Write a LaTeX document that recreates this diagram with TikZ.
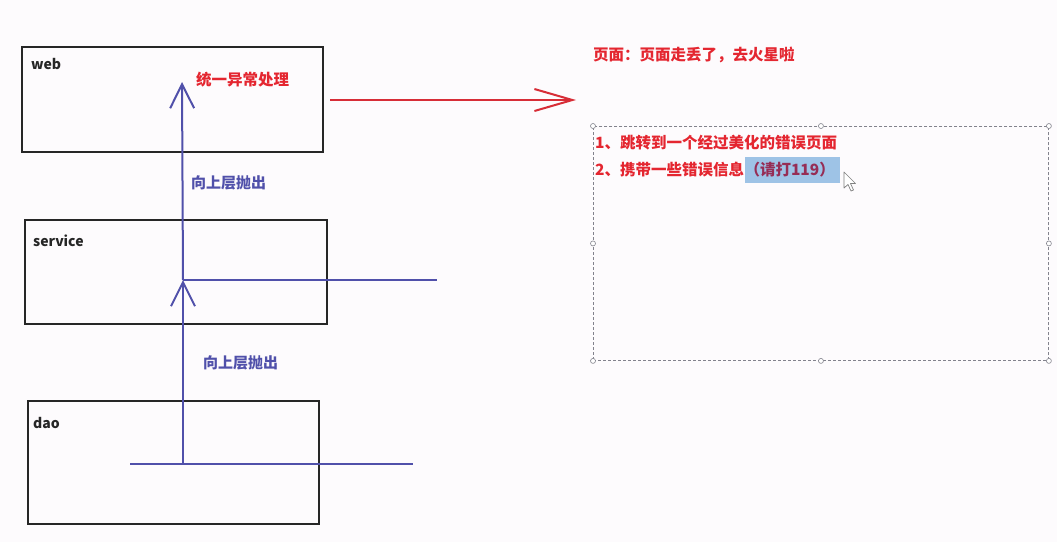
\documentclass[tikz,border=0pt]{standalone}
\usepackage{fontspec}
\newfontfamily\cjk{Noto Sans CJK SC}
\usetikzlibrary{arrows.meta}
\definecolor{bg}{RGB}{253,251,253}
\definecolor{blueline}{RGB}{80,80,170}
\definecolor{redline}{RGB}{215,45,55}
\definecolor{redtext}{RGB}{228,38,48}
\definecolor{hl}{RGB}{158,195,230}
\definecolor{hltext}{RGB}{150,45,85}
\definecolor{dashgray}{RGB}{130,130,140}
\tikzset{
  layerbox/.style={draw=black!85, line width=2pt, fill=none, anchor=north west, inner sep=0pt},
  layername/.style={anchor=west, inner sep=0pt, font=\cjk\bfseries\fontsize{14}{16}\selectfont, text=black!85},
  bluetext/.style={anchor=west, inner sep=0pt, font=\cjk\bfseries\fontsize{15}{18}\selectfont, text=blueline},
  redlabel/.style={anchor=west, inner sep=0pt, font=\cjk\bfseries\fontsize{15.5}{18}\selectfont, text=redtext},
  blueflow/.style={draw=blueline, line width=2pt},
  bluearrow/.style={blueflow, -{Straight Barb[length=24pt,width=24pt]}},
  redarrow/.style={draw=redline, line width=2pt, -{Straight Barb[length=38pt,width=22pt]}},
  handle/.style={circle, draw=dashgray, fill=white, line width=0.6pt, inner sep=0pt, minimum size=5pt},
}
\begin{document}
\begin{tikzpicture}[x=1pt,y=-1pt]
\fill[bg] (0,0) rectangle (1057,542);
\useasboundingbox (0,0) rectangle (1057,542);

% layer boxes
\node[layerbox, minimum width=301pt, minimum height=105pt] (web) at (21,46) {};
\node[layerbox, minimum width=302pt, minimum height=104pt] (service) at (24,219) {};
\node[layerbox, minimum width=291pt, minimum height=123pt] (dao) at (27,400) {};

\node[layername] (webl) at (31,64) {web};
\node[layername] (servicel) at (33,241) {service};
\node[layername] (daol) at (33,423) {dao};

% blue flows
\coordinate (d1) at (130,464);
\coordinate (d2) at (413,464);
\coordinate (dj) at (183,464);
\coordinate (sj) at (183,280);
\coordinate (s2) at (437,280);
\coordinate (wt) at (182,82);

\draw[blueflow] (d1) -- (d2);
\draw[bluearrow] (dj) -- (sj);
\draw[blueflow] (sj) -- (s2);
\draw[bluearrow] (sj) -- (wt);

\node[bluetext] (up1) at (191,183) {向上层抛出};
\node[bluetext] (up2) at (203,363) {向上层抛出};
\node[redlabel] (unify) at (196,80) {统一异常处理};

% red arrow
\coordinate (rs) at (330,100);
\coordinate (rt) at (576,100);
\draw[redarrow] (rs) -- (rt);

\node[redlabel] (title) at (593,55) {页面：页面走丢了，去火星啦};

% dashed text box
\node[draw=dashgray, densely dashed, line width=0.9pt, anchor=north west, minimum width=455pt, minimum height=234pt, inner sep=0pt] (tb) at (593,126) {};
\foreach \a in {north west,north,north east,west,east,south west,south,south east}
  \node[handle] at (tb.\a) {};

\node[redlabel] (l1) at (595,143) {1、跳转到一个经过美化的错误页面};
\node[redlabel] (l2) at (595,170) {2、携带一些错误信息};
\node[anchor=west, fill=hl, inner xsep=0pt, inner ysep=0pt, minimum height=26pt, text width=95pt, font=\cjk\bfseries\fontsize{15.5}{18}\selectfont, text=hltext] (hlnode) at (l2.east) {（请打119）};

% mouse cursor
\draw[fill=white, draw=gray, line width=0.7pt, line join=round]
  (844,172) -- (844,188) -- (848,184.5) -- (851,191) -- (853.5,190) -- (850.5,183.5) -- (855.5,183.5) -- cycle;
\end{tikzpicture}
\end{document}
